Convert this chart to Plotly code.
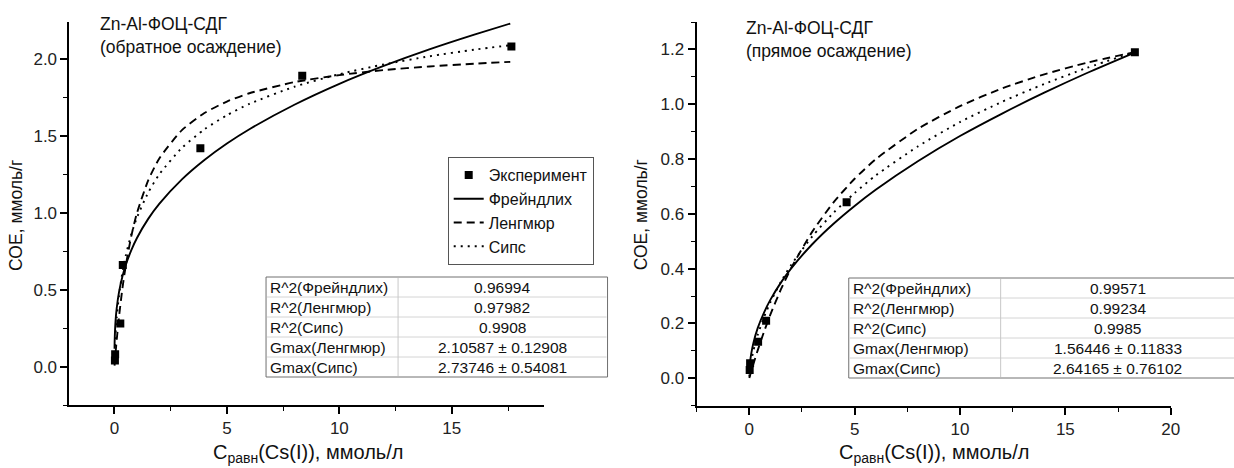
import plotly.graph_objects as go

W, H = 1234, 468

# ---------- left panel: обратное осаждение ----------
exp_x_back = [0.02, 0.03, 0.26, 0.37, 3.82, 8.35, 17.65]
exp_y_back = [0.04, 0.08, 0.28, 0.66, 1.42, 1.89, 2.08]
fit_x_back = [0.003, 0.01, 0.05, 0.1, 0.2, 0.35, 0.5, 0.75, 1, 1.5, 2, 3, 4, 5, 6, 8, 10, 12, 14, 16, 17.6]
freundlich_back = [0.115, 0.173, 0.300, 0.380, 0.482, 0.584, 0.659, 0.757, 0.836, 0.960, 1.059, 1.217,
                   1.343, 1.450, 1.543, 1.702, 1.838, 1.956, 2.062, 2.158, 2.230]
langmuir_back = [0.006, 0.019, 0.091, 0.174, 0.321, 0.504, 0.654, 0.849, 0.998, 1.210, 1.354, 1.537,
                 1.648, 1.723, 1.777, 1.849, 1.895, 1.928, 1.951, 1.969, 1.981]
sips_back = [0.041, 0.084, 0.217, 0.319, 0.461, 0.610, 0.720, 0.861, 0.969, 1.131, 1.251, 1.422,
             1.542, 1.634, 1.708, 1.819, 1.901, 1.965, 2.017, 2.060, 2.089]

# ---------- right panel: прямое осаждение ----------
exp_x_direct = [0.02, 0.04, 0.42, 0.80, 4.62, 18.3]
exp_y_direct = [0.03, 0.055, 0.133, 0.21, 0.642, 1.19]
fit_x_direct = [0.003, 0.01, 0.05, 0.1, 0.2, 0.4, 0.7, 1, 1.5, 2, 3, 4, 5, 6, 8, 10, 12, 14, 16, 18.4]
freundlich_direct = [0.017, 0.030, 0.066, 0.093, 0.130, 0.183, 0.240, 0.286, 0.349, 0.402, 0.490, 0.564,
                     0.629, 0.688, 0.792, 0.884, 0.966, 1.042, 1.113, 1.192]
langmuir_direct = [0.001, 0.003, 0.014, 0.027, 0.053, 0.102, 0.170, 0.232, 0.324, 0.404, 0.536, 0.642,
                   0.728, 0.799, 0.910, 0.993, 1.058, 1.109, 1.151, 1.192]
sips_direct = [0.006, 0.014, 0.041, 0.065, 0.102, 0.158, 0.223, 0.277, 0.352, 0.415, 0.519, 0.604,
               0.676, 0.740, 0.846, 0.935, 1.009, 1.074, 1.132, 1.193]

# ---------- text ----------
series_names = ["Эксперимент", "Фрейндлих", "Ленгмюр", "Сипс"]
title_back = "Zn-Al-ФОЦ-СДГ<br>(обратное осаждение)"
title_direct = "Zn-Al-ФОЦ-СДГ<br>(прямое осаждение)"
x_title = "C<sub>равн</sub>(Cs(I)), ммоль/л"
y_title = "СОЕ, ммоль/г"
tbl_labels = ["R^2(Фрейндлих)", "R^2(Ленгмюр)", "R^2(Сипс)", "Gmax(Ленгмюр)", "Gmax(Сипс)"]
tbl_back = ["0.96994", "0.97982", "0.9908", "2.10587 ± 0.12908", "2.73746 ± 0.54081"]
tbl_direct = ["0.99571", "0.99234", "0.9985", "1.56446 ± 0.11833", "2.64165 ± 0.76102"]

FONT = "Arial, Liberation Sans, sans-serif"


def px(x):
    return x / W


def py(y):
    return 1 - y / H


fig = go.Figure()

styles = [None, "solid", "8px,5px", "2px,5px"]


def add_panel(xa, ya, ex, ey, fx, curves, show):
    fig.add_trace(go.Scatter(x=ex, y=ey, mode="markers", name=series_names[0],
                             marker=dict(symbol="square", size=8, color="black"),
                             xaxis=xa, yaxis=ya, showlegend=show))
    for i, cy in enumerate(curves, start=1):
        fig.add_trace(go.Scatter(x=fx, y=cy, mode="lines", name=series_names[i],
                                 line=dict(color="black", width=1.9, dash=styles[i],
                                           shape="spline", smoothing=0.6),
                                 xaxis=xa, yaxis=ya, showlegend=show))


add_panel("x", "y", exp_x_back, exp_y_back, fit_x_back,
          [freundlich_back, langmuir_back, sips_back], True)
add_panel("x2", "y2", exp_x_direct, exp_y_direct, fit_x_direct,
          [freundlich_direct, langmuir_direct, sips_direct], False)

axis_common = dict(showline=True, linecolor="black", linewidth=2, ticks="outside",
                   ticklen=7, tickwidth=1.5, tickcolor="black", showgrid=False,
                   zeroline=False, tickfont=dict(family=FONT, size=17, color="#222"),
                   mirror=False)
minor_common = dict(ticks="outside", ticklen=4, tickcolor="black", tickwidth=1.2, tick0=0)

fig.update_layout(
    width=W, height=H, margin=dict(l=0, r=0, t=0, b=0),
    paper_bgcolor="white", plot_bgcolor="white",
    font=dict(family=FONT, color="#111"),
    xaxis=dict(domain=[px(70), px(548)], range=[-2, 19.1], dtick=5, tick0=0,
               minor=dict(dtick=2.5, **minor_common), anchor="y", **axis_common),
    yaxis=dict(domain=[py(405), py(22)], range=[-0.25, 2.24], dtick=0.5, tick0=0, tickformat=".1f",
               minor=dict(dtick=0.25, **minor_common), anchor="x", **axis_common),
    xaxis2=dict(domain=[px(701.7), px(1179.3)], range=[-2.5, 20], dtick=5, tick0=0,
                minor=dict(dtick=2.5, **minor_common), anchor="y2", **axis_common),
    yaxis2=dict(domain=[py(405.7), py(22)], range=[-0.1, 1.3], dtick=0.2, tick0=0, tickformat=".1f",
                minor=dict(dtick=0.1, **minor_common), anchor="x2", **axis_common),
    legend=dict(x=px(451), y=py(157), xanchor="left", yanchor="top",
                bgcolor="white", bordercolor="#555", borderwidth=1,
                font=dict(family=FONT, size=16, color="#111"), tracegroupgap=0),
    showlegend=True,
)

annotations = []
shapes = []

# panel titles
annotations.append(dict(text=title_back, x=px(99), y=py(12), xref="paper", yref="paper",
                        xanchor="left", yanchor="top", align="left", showarrow=False,
                        font=dict(family=FONT, size=17.5, color="#111")))
annotations.append(dict(text=title_direct, x=px(749), y=py(16), xref="paper", yref="paper",
                        xanchor="left", yanchor="top", align="left", showarrow=False,
                        font=dict(family=FONT, size=17.5, color="#111")))

# axis titles
for cx in (310, 941):
    annotations.append(dict(text=x_title, x=px(cx), y=py(453), xref="paper", yref="paper",
                            xanchor="center", yanchor="middle", showarrow=False,
                            font=dict(family=FONT, size=20, color="#111")))
for cx in (16, 646):
    annotations.append(dict(text=y_title, x=px(cx), y=py(215), xref="paper", yref="paper",
                            xanchor="center", yanchor="middle", showarrow=False, textangle=-90,
                            font=dict(family=FONT, size=17.5, color="#111")))


def add_table(x0, xdiv, x1, y0, rowh, values, val_cx):
    n = len(tbl_labels)
    y1 = y0 + n * rowh
    shapes.append(dict(type="rect", xref="paper", yref="paper",
                       x0=px(x0), x1=px(x1), y0=py(y0), y1=py(y1),
                       line=dict(color="#707070", width=1), fillcolor="white",
                       layer="above"))
    for i in range(1, n):
        shapes.append(dict(type="line", xref="paper", yref="paper", layer="above",
                           x0=px(x0 + 1), x1=px(x1 - 1), y0=py(y0 + i * rowh), y1=py(y0 + i * rowh),
                           line=dict(color="#d4d4d4", width=1)))
    shapes.append(dict(type="line", xref="paper", yref="paper", layer="above",
                       x0=px(xdiv), x1=px(xdiv), y0=py(y0 + 1), y1=py(y1 - 1),
                       line=dict(color="#c8c8c8", width=1)))
    for i in range(n):
        cy = y0 + (i + 0.5) * rowh
        annotations.append(dict(text=tbl_labels[i], x=px(x0 + 2), y=py(cy), xref="paper", yref="paper",
                                xanchor="left", yanchor="middle", showarrow=False,
                                font=dict(family=FONT, size=15.5, color="#111")))
        annotations.append(dict(text=values[i], x=px(val_cx), y=py(cy), xref="paper", yref="paper",
                                xanchor="center", yanchor="middle", showarrow=False,
                                font=dict(family=FONT, size=15.5, color="#111")))


add_table(268, 401, 612, 277, 20, tbl_back, 506)
add_table(855, 1008, 1244, 278, 20, tbl_direct, 1126)

fig.update_layout(shapes=shapes, annotations=annotations)

fig.write_html("out.html", config={"displayModeBar": False},
               post_script="document.body.style.margin='0';document.body.style.padding='0';")
